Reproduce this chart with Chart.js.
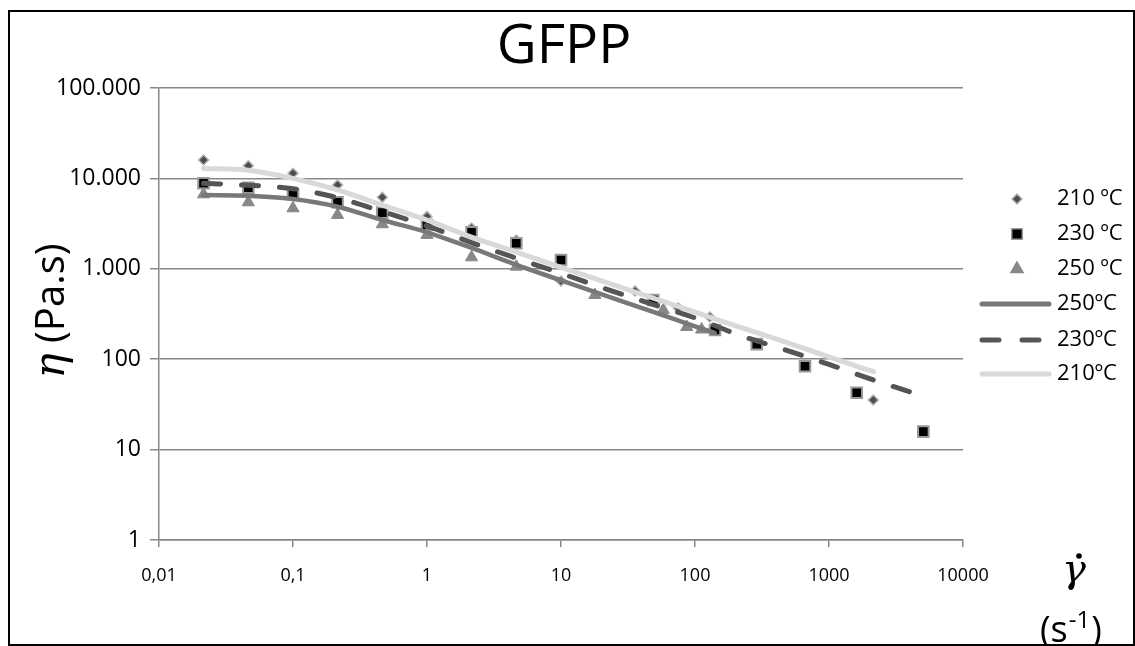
<!DOCTYPE html>
<html lang="es">
<head>
<meta charset="UTF-8">
<title>GFPP</title>
<script src="https://cdn.jsdelivr.net/npm/chart.js"></script>
<style>
  html, body { margin: 0; padding: 0; background: #fff; }
  .wrap { width: 1135px; height: 646px; }
</style>
</head>
<body>
<div class="wrap"><canvas id="grafico" width="1135" height="646"></canvas></div>
<script>
// Puntos experimentales (velocidad de cizalla s-1, viscosidad Pa.s)
const x210 = [0.0215, 0.0464, 0.1, 0.215, 0.464, 1, 2.15, 4.64, 10, 35.7, 51.8, 75, 129, 662, 2140];
const y210 = [16000, 13800, 11400, 8450, 6180, 3800, 2830, 2080, 733, 568, 440, 369, 293, 88, 35.4];

const x230 = [0.0215, 0.0464, 0.1, 0.215, 0.464, 1, 2.15, 4.64, 10, 48.8, 141, 289, 662, 1610, 5060];
const y230 = [8830, 7890, 6670, 5440, 4180, 3050, 2530, 1915, 1250, 452, 210, 147, 83.5, 42.6, 15.8];

const x250 = [0.0215, 0.0464, 0.1, 0.215, 0.464, 1, 2.15, 4.64, 17.9, 58, 86.7, 112];
const y250 = [6670, 5440, 4670, 3940, 3110, 2370, 1340, 1055, 513, 350, 227, 213];

// Curvas de ajuste
const xAjuste210 = [0.0215, 0.0464, 0.1, 0.215, 0.464, 1, 2.15, 4.64, 10, 21.5, 46.4, 100, 215, 464, 1000, 2150];
const ajuste210 = [12900, 12300, 10000, 7450, 5050, 3450, 2240, 1530, 1040, 711, 486, 332, 227, 156, 106, 72.8];

const xAjuste230 = [0.0215, 0.0464, 0.1, 0.215, 0.464, 1, 2.15, 4.64, 10, 21.5, 46.4, 100, 215, 464, 1000, 2150, 5000];
const ajuste230 = [8830, 8390, 7700, 6100, 4300, 2980, 1950, 1310, 891, 601, 413, 286, 184, 128, 87.6, 58.9, 39.2];

const xAjuste250 = [0.0215, 0.0464, 0.1, 0.215, 0.464, 1, 2.15, 4.64, 10, 21.5, 46.4, 100, 140];
const ajuste250 = [6550, 6440, 5920, 4865, 3465, 2535, 1700, 1107, 746, 505, 342, 231, 195];

// Ejes
const xTicks = [0.01, 0.1, 1, 10, 100, 1000, 10000];
const xTickLabels = ['0,01', '0,1', '1', '10', '100', '1000', '10000'];
const yTicks = [1, 10, 100, 1000, 10000, 100000];
const yTickLabels = ['1', '10', '100', '1.000', '10.000', '100.000'];

const leyenda = ['210 ºC', '230 ºC', '250 ºC', '250ºC', '230ºC', '210ºC'];

const FUENTE = '"Open Sans", "Liberation Sans", sans-serif';
const pares = (xs, ys) => xs.map((x, i) => ({ x: x, y: ys[i] }));

// marco, titulos y leyenda dibujados a mano
const decorado = {
  id: 'decorado',
  beforeDraw(chart) {
    const ctx = chart.ctx;
    ctx.save();
    ctx.fillStyle = '#fff';
    ctx.fillRect(0, 0, chart.width, chart.height);
    ctx.restore();
  },
  afterDraw(chart) {
    const ctx = chart.ctx;
    ctx.save();
    ctx.strokeStyle = '#000';
    ctx.lineWidth = 2;
    ctx.strokeRect(9, 11, 1125, 634);

    // titulo
    ctx.fillStyle = '#000';
    ctx.font = '55px ' + FUENTE;
    ctx.textAlign = 'center';
    ctx.textBaseline = 'alphabetic';
    ctx.fillText('GFPP', 564, 63);

    // titulo eje Y (rotado)
    ctx.save();
    ctx.translate(64, 311);
    ctx.rotate(-Math.PI / 2);
    ctx.font = 'italic 42px "DejaVu Serif", serif';
    const wEta = ctx.measureText('η').width;
    ctx.font = '40px ' + FUENTE;
    const wResto = ctx.measureText(' (Pa.s)').width;
    let x0 = -(wEta + wResto) / 2;
    ctx.textAlign = 'left';
    ctx.font = 'italic 42px "DejaVu Serif", serif';
    ctx.fillText('η', x0, 0);
    ctx.font = '40px ' + FUENTE;
    ctx.fillText(' (Pa.s)', x0 + wEta, 0);
    ctx.restore();

    // titulo eje X
    ctx.textAlign = 'center';
    ctx.font = 'italic 40px "DejaVu Serif", serif';
    ctx.fillText('γ', 1074, 582);
    ctx.beginPath();
    ctx.arc(1079, 556, 2.8, 0, Math.PI * 2);
    ctx.fill();
    ctx.textAlign = 'left';
    ctx.font = '36px ' + FUENTE;
    const wPar = ctx.measureText('(s').width;
    ctx.fillText('(s', 1040, 642);
    ctx.font = '24px ' + FUENTE;
    const wSup = ctx.measureText('-1').width;
    ctx.fillText('-1', 1040 + wPar + 1, 628);
    ctx.font = '36px ' + FUENTE;
    ctx.fillText(')', 1040 + wPar + wSup + 2, 642);

    // leyenda
    const filas = [199, 234, 269, 304, 340, 374];
    const h = Chart.helpers;
    ctx.lineWidth = 1.5;
    ctx.fillStyle = '#4d4d4d'; ctx.strokeStyle = '#b3b3b3';
    h.drawPoint(ctx, { pointStyle: 'rectRot', radius: 5, borderWidth: 1.5, rotation: 0 }, 1017, filas[0]);
    ctx.fillStyle = '#000'; ctx.strokeStyle = '#999';
    h.drawPoint(ctx, { pointStyle: 'rect', radius: 7.5, borderWidth: 2, rotation: 0 }, 1017, filas[1]);
    ctx.fillStyle = '#888'; ctx.strokeStyle = '#888';
    h.drawPoint(ctx, { pointStyle: 'triangle', radius: 7, borderWidth: 1, rotation: 0 }, 1017, filas[2]);

    const muestras = [
      { color: '#787878', dash: [] },
      { color: '#555555', dash: [17, 23] },
      { color: '#d9d9d9', dash: [] }
    ];
    ctx.lineCap = 'round';
    muestras.forEach((m, i) => {
      ctx.beginPath();
      ctx.setLineDash(m.dash);
      ctx.strokeStyle = m.color;
      ctx.lineWidth = 5;
      ctx.moveTo(982, filas[3 + i]);
      ctx.lineTo(1049, filas[3 + i]);
      ctx.stroke();
    });
    ctx.setLineDash([]);

    ctx.fillStyle = '#000';
    ctx.font = '22px ' + FUENTE;
    ctx.textAlign = 'left';
    ctx.textBaseline = 'middle';
    leyenda.forEach((t, i) => ctx.fillText(t, 1057, filas[i]));
    ctx.restore();
  }
};

const puntos = (etiqueta, xs, ys, estilo, radio, relleno, borde, grosor) => ({
  label: etiqueta,
  data: pares(xs, ys),
  showLine: false,
  pointStyle: estilo,
  pointRadius: radio,
  pointBackgroundColor: relleno,
  pointBorderColor: borde,
  pointBorderWidth: grosor
});

const curva = (etiqueta, xs, ys, color, dash, grosor) => ({
  label: etiqueta,
  data: pares(xs, ys),
  showLine: true,
  borderColor: color,
  borderWidth: grosor,
  borderDash: dash,
  borderCapStyle: 'round',
  cubicInterpolationMode: 'monotone',
  pointRadius: 0,
  fill: false
});

new Chart(document.getElementById('grafico'), {
  type: 'scatter',
  data: {
    datasets: [
      curva('210ºC', xAjuste210, ajuste210, '#d9d9d9', [], 5),
      curva('230ºC', xAjuste230, ajuste230, '#555555', [17, 21], 5),
      curva('250ºC', xAjuste250, ajuste250, '#787878', [], 4.5),
      puntos('250 ºC', x250, y250, 'triangle', 7, '#888', '#888', 1),
      puntos('230 ºC', x230, y230, 'rect', 7.5, '#000', '#999', 2),
      puntos('210 ºC', x210, y210, 'rectRot', 5, '#4d4d4d', '#b3b3b3', 1.5)
    ]
  },
  options: {
    responsive: false,
    animation: false,
    layout: { padding: { top: 88, right: 172, bottom: 0, left: 0 } },
    plugins: {
      legend: { display: false },
      tooltip: { enabled: false },
      title: { display: false }
    },
    scales: {
      x: {
        type: 'logarithmic',
        min: 0.01,
        max: 10000,
        afterBuildTicks: s => { s.ticks = xTicks.map(v => ({ value: v })); },
        afterFit: s => { s.height = 106; },
        ticks: {
          callback: (v, i) => xTickLabels[i],
          autoSkip: false,
          maxRotation: 0,
          padding: 18,
          color: '#000',
          font: { family: FUENTE, size: 18 }
        },
        grid: { drawOnChartArea: false, tickLength: 7, color: '#888', lineWidth: 1.5 },
        border: { color: '#888', width: 1.5 }
      },
      y: {
        type: 'logarithmic',
        min: 1,
        max: 100000,
        afterBuildTicks: s => { s.ticks = yTicks.map(v => ({ value: v })); },
        afterFit: s => { s.width = 159; },
        ticks: {
          callback: (v, i) => yTickLabels[i],
          autoSkip: false,
          padding: 9,
          color: '#000',
          font: { family: FUENTE, size: 23 }
        },
        grid: { tickLength: 9, color: '#888', lineWidth: 1.5 },
        border: { color: '#888', width: 1.5 }
      }
    }
  },
  plugins: [decorado]
});
</script>
</body>
</html>
